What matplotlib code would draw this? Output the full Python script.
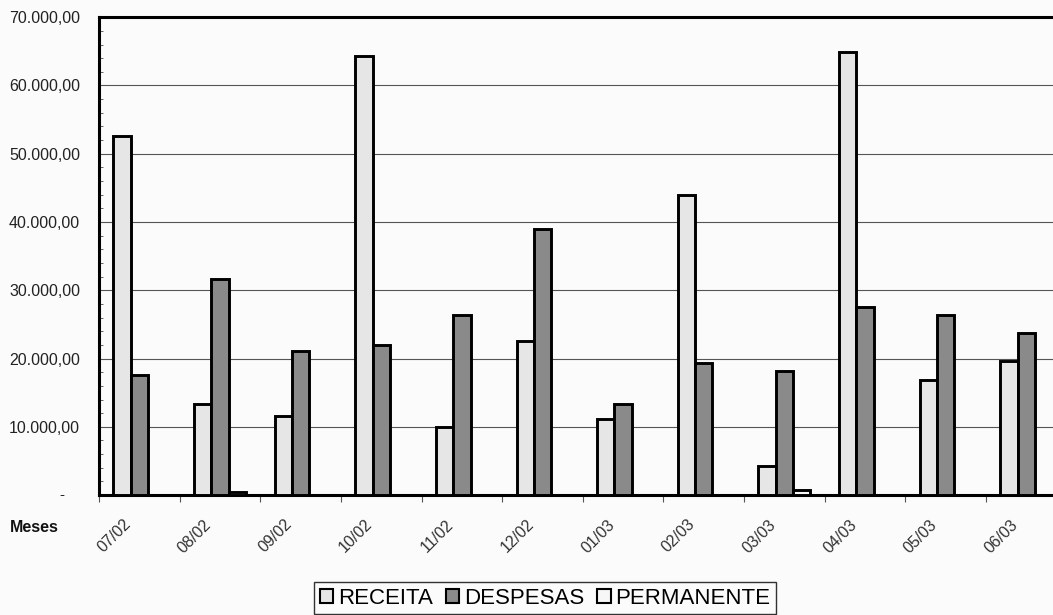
import matplotlib.pyplot as plt
import matplotlib.transforms as mtransforms
from matplotlib.ticker import FuncFormatter, MultipleLocator
import numpy as np

plt.rcParams['font.family'] = ['Liberation Sans', 'DejaVu Sans']

# Monthly values (R$)
meses = ['07/02', '08/02', '09/02', '10/02', '11/02', '12/02',
         '01/03', '02/03', '03/03', '04/03', '05/03', '06/03']
receita = [52600, 13400, 11600, 64300, 10000, 22500,
           11200, 43900, 4300, 64900, 16800, 19600]
despesas = [17600, 31700, 21100, 22000, 26400, 39000,
            13400, 19400, 18200, 27500, 26400, 23700]
permanente = [0, 500, 0, 0, 0, 0,
              0, 0, 800, 0, 0, 0]

series = [('RECEITA', receita, '#e6e6e6'),
          ('DESPESAS', despesas, '#8a8a8a'),
          ('PERMANENTE', permanente, '#f7f7f7')]

bg = '#fbfbfb'
fig = plt.figure(figsize=(10.53, 6.15), dpi=100, facecolor=bg)
ax = fig.add_axes([0.094, 0.195, 0.919, 0.777])
ax.set_facecolor(bg)

x = np.arange(len(meses)) + 0.5
width = 0.215
for k, (name, vals, color) in enumerate(series):
    ax.bar(x + (k - 1) * width, vals, width=width, color=color,
           edgecolor='black', linewidth=2.1, label=name, zorder=3)

ax.set_xlim(0, len(meses))
ax.set_ylim(0, 70000)

# y axis: gridlines every 10.000, small inner ticks every 2.000
ax.yaxis.set_major_locator(MultipleLocator(10000))
ax.yaxis.set_minor_locator(MultipleLocator(2000))

def fmt_brl(v, pos):
    if v == 0:
        return ''
    s = f'{v:,.2f}'
    return s.replace(',', 'X').replace('.', ',').replace('X', '.')

ax.yaxis.set_major_formatter(FuncFormatter(fmt_brl))
ax.tick_params(axis='y', which='major', length=0, pad=13.5,
               labelsize=11.5, labelcolor='#222222')
ax.tick_params(axis='y', which='minor', direction='in', length=3,
               width=0.7, color='#666666')
ax.grid(axis='y', which='major', color='#555555', linewidth=0.8, zorder=0)
ax.annotate('-', xy=(0, 0), xycoords=('axes fraction', 'data'),
            xytext=(-37, 0), textcoords='offset pixels',
            ha='center', va='center', fontsize=11, color='#222222')

# x axis: tick marks between months, labels drawn at month centres
ax.set_xticks(np.arange(len(meses) + 1))
ax.set_xticklabels([])
ax.tick_params(axis='x', which='major', direction='out', length=5,
               width=0.8, color='#555555')
trans = mtransforms.blended_transform_factory(ax.transData, ax.transAxes) + \
    mtransforms.ScaledTranslation(-0.11, -0.27, fig.dpi_scale_trans)
for xi, m in zip(x, meses):
    ax.text(xi, 0, m, transform=trans, rotation=45, rotation_mode='anchor',
            ha='right', va='center', fontsize=11.5, color='#333333')

fig.text(10 / 1053, 1 - 528 / 615, 'Meses', ha='left', va='center',
         fontsize=11.5, fontweight='bold', color='#111111')

for side in ['left', 'top', 'bottom']:
    ax.spines[side].set_linewidth(2.2)
    ax.spines[side].set_color('black')
ax.spines['right'].set_visible(False)

leg = fig.legend(loc='upper center', bbox_to_anchor=(0.5176, 1 - 582 / 615),
                 ncol=3, fontsize=16, frameon=True, fancybox=False,
                 handlelength=0.6, handleheight=0.6, handletextpad=0.2,
                 columnspacing=0.6, borderpad=0.25, borderaxespad=0)
leg.get_frame().set_edgecolor('black')
leg.get_frame().set_linewidth(1.0)
leg.get_frame().set_facecolor(bg)
for h in leg.legend_handles:
    h.set_linewidth(1.5)

fig.savefig('out.png', dpi=100, facecolor=bg)
